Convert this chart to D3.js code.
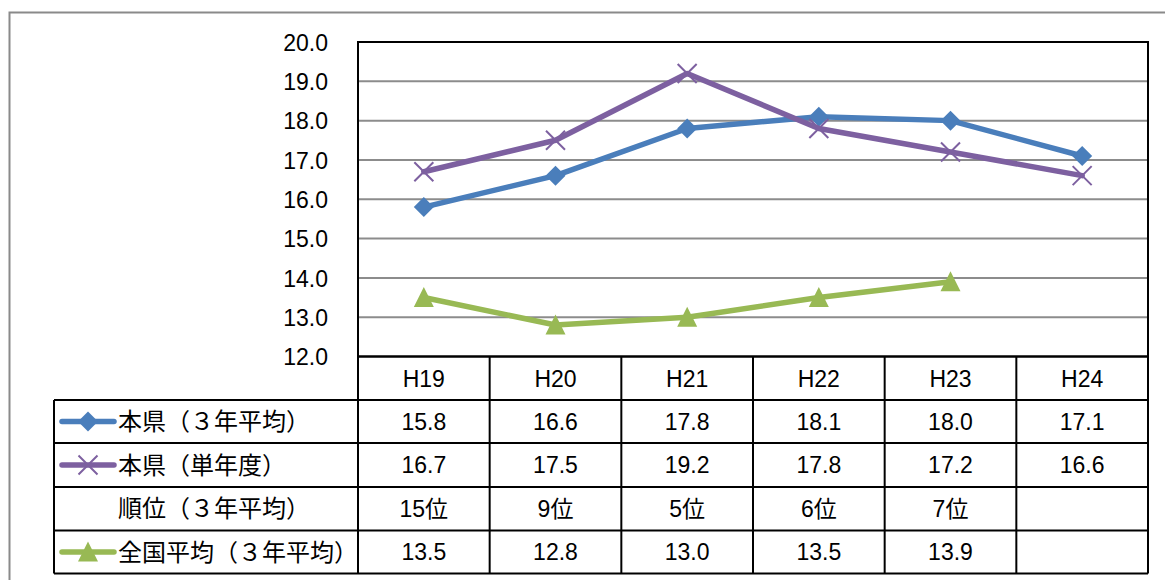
<!DOCTYPE html>
<html>
<head>
<meta charset="utf-8">
<script src="https://cdn.jsdelivr.net/npm/d3@7"></script>
<style>
  html, body { margin: 0; padding: 0; background: #fff; }
  svg { display: block; }
  .num { font-family: "Liberation Sans", "Noto Sans CJK JP", sans-serif; font-size: 23px; fill: #000; }
  .jp { font-family: "Noto Sans CJK JP", sans-serif; font-size: 24px; fill: #000; }
</style>
</head>
<body>
<svg id="chart" width="1165" height="580"></svg>
<script>
// Years (table columns / x categories)
const years = ["H19", "H20", "H21", "H22", "H23", "H24"];

// Series values
const prefAvg3 = [15.8, 16.6, 17.8, 18.1, 18.0, 17.1];     // 本県（３年平均）
const prefSingle = [16.7, 17.5, 19.2, 17.8, 17.2, 16.6];   // 本県（単年度）
const rankAvg3 = ["15位", "9位", "5位", "6位", "7位", ""];  // 順位（３年平均）
const nationalAvg3 = [13.5, 12.8, 13.0, 13.5, 13.9, null]; // 全国平均（３年平均）

// Y axis ticks
const yTicks = [12, 13, 14, 15, 16, 17, 18, 19, 20];

const rowLabels = ["本県（３年平均）", "本県（単年度）", "順位（３年平均）", "全国平均（３年平均）"];

const colors = { blue: "#4a7ebb", purple: "#7d60a0", green: "#98b954" };

const svg = d3.select("#chart");

// Outer frame (runs off the right and bottom edges)
svg.append("rect")
  .attr("x", 9.5).attr("y", 12.5)
  .attr("width", 1300).attr("height", 700)
  .attr("fill", "none").attr("stroke", "#8a8a8a").attr("stroke-width", 2);

const plot = { left: 358, right: 1148, top: 42, bottom: 356.5 };

const x = d3.scaleBand().domain(years).range([plot.left, plot.right]);
const y = d3.scaleLinear().domain([12, 20]).range([plot.bottom, plot.top]);
const cx = d => x(d) + x.bandwidth() / 2;

// Gridlines
svg.append("g")
  .selectAll("line")
  .data(yTicks.filter(t => t > 12 && t < 20))
  .join("line")
  .attr("x1", plot.left).attr("x2", plot.right)
  .attr("y1", d => y(d)).attr("y2", d => y(d))
  .attr("stroke", "#8c8c8c").attr("stroke-width", 2);

// Y axis labels
const yAxis = d3.axisLeft(y).tickValues(yTicks).tickFormat(d3.format(".1f")).tickSize(0).tickPadding(30);
const ya = svg.append("g").attr("transform", `translate(${plot.left},0)`).call(yAxis);
ya.select(".domain").remove();
ya.selectAll("text").attr("class", "num").attr("font-size", null).attr("font-family", null).attr("dy", "0.36em");

// Table geometry
const tableLeft = 54;
const rowEdges = [356.5, 400, 443, 487, 530.5, 573.5];

const table = svg.append("g").attr("fill", "none").attr("stroke", "#000").attr("stroke-width", 2);

// Plot frame
table.append("rect")
  .attr("x", plot.left).attr("y", plot.top)
  .attr("width", plot.right - plot.left).attr("height", plot.bottom - plot.top);

// Horizontal table lines
rowEdges.forEach((ry, i) => {
  table.append("line")
    .attr("x1", i === 0 ? plot.left : tableLeft).attr("x2", plot.right)
    .attr("y1", ry).attr("y2", ry);
});
// Vertical table lines
table.append("line").attr("x1", tableLeft).attr("x2", tableLeft).attr("y1", rowEdges[1]).attr("y2", rowEdges[5]);
x.domain().forEach(d => {
  table.append("line").attr("x1", x(d)).attr("x2", x(d)).attr("y1", rowEdges[0]).attr("y2", rowEdges[5]);
});
table.append("line").attr("x1", plot.right).attr("x2", plot.right).attr("y1", rowEdges[0]).attr("y2", rowEdges[5]);

const rowMid = i => (rowEdges[i] + rowEdges[i + 1]) / 2;

// Header row
svg.append("g").selectAll("text").data(years).join("text")
  .attr("class", "num").attr("x", d => cx(d)).attr("y", rowMid(0)).attr("dy", "0.36em")
  .attr("text-anchor", "middle").text(d => d);

// Data rows
const rows = [
  prefAvg3.map(v => v == null ? "" : v.toFixed(1)),
  prefSingle.map(v => v == null ? "" : v.toFixed(1)),
  rankAvg3,
  nationalAvg3.map(v => v == null ? "" : v.toFixed(1))
];
rows.forEach((vals, ri) => {
  svg.append("g").selectAll("text").data(vals).join("text")
    .attr("class", "num").attr("x", (d, i) => cx(years[i])).attr("y", rowMid(ri + 1)).attr("dy", "0.36em")
    .attr("text-anchor", "middle").text(d => d);
});

// Row labels
rowLabels.forEach((lbl, ri) => {
  svg.append("text").attr("class", "jp")
    .attr("x", 118).attr("y", rowMid(ri + 1)).attr("dy", "0.36em").text(lbl);
});

// Markers
function drawMarker(g, type, color, px, py) {
  if (type === "diamond") {
    const s = 10;
    g.append("path").attr("d", `M${px},${py - s}L${px + s},${py}L${px},${py + s}L${px - s},${py}Z`).attr("fill", color);
  } else if (type === "x") {
    const s = 9.5;
    g.append("path").attr("d", `M${px - s},${py - s}L${px + s},${py + s}M${px - s},${py + s}L${px + s},${py - s}`)
      .attr("stroke", color).attr("stroke-width", 2).attr("fill", "none");
  } else if (type === "triangle") {
    const s = 10;
    g.append("path").attr("d", `M${px},${py - s * 1.05}L${px + s},${py + s * 0.95}L${px - s},${py + s * 0.95}Z`).attr("fill", color);
  }
}

const series = [
  { values: nationalAvg3, color: colors.green, marker: "triangle", row: 4 },
  { values: prefAvg3, color: colors.blue, marker: "diamond", row: 1 },
  { values: prefSingle, color: colors.purple, marker: "x", row: 2 }
];

const line = d3.line()
  .defined(d => d.v != null)
  .x(d => cx(d.year)).y(d => y(d.v));

series.forEach(s => {
  const pts = s.values.map((v, i) => ({ year: years[i], v }));
  const g = svg.append("g");
  g.append("path").datum(pts).attr("d", line)
    .attr("fill", "none").attr("stroke", s.color).attr("stroke-width", 5.5)
    .attr("stroke-linejoin", "round").attr("stroke-linecap", "round");
  pts.filter(p => p.v != null).forEach(p => drawMarker(g, s.marker, s.color, cx(p.year), y(p.v)));

  // Legend key in table
  const ly = rowMid(s.row);
  const lg = svg.append("g");
  lg.append("line").attr("x1", 62).attr("x2", 114).attr("y1", ly).attr("y2", ly)
    .attr("stroke", s.color).attr("stroke-width", 5.5).attr("stroke-linecap", "round");
  drawMarker(lg, s.marker, s.color, 88, ly);
});
</script>
</body>
</html>
